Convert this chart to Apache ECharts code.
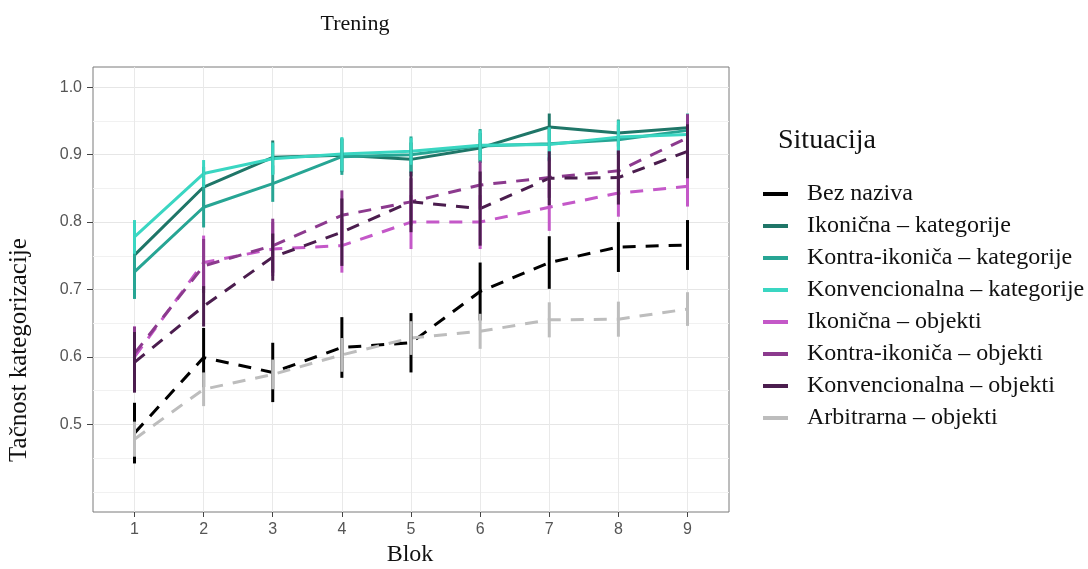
<!DOCTYPE html>
<html><head><meta charset="utf-8">
<script src="https://cdn.jsdelivr.net/npm/echarts@6/dist/echarts.min.js"></script>
<style>html,body{margin:0;padding:0;background:#fff}#c{width:1088px;height:569px}</style>
</head><body><div id="c"></div>
<script>
// ---- data ----
const blocks = [1, 2, 3, 4, 5, 6, 7, 8, 9];
const yTicks = [0.5, 0.6, 0.7, 0.8, 0.9, 1.0];
const yMinor = [0.4, 0.45, 0.55, 0.65, 0.75, 0.85, 0.95];
const names = [
  'Bez naziva',
  'Ikonična – kategorije',
  'Kontra-ikoniča – kategorije',
  'Konvencionalna – kategorije',
  'Ikonična – objekti',
  'Kontra-ikoniča – objekti',
  'Konvencionalna – objekti',
  'Arbitrarna – objekti'
];
const bezNaziva      = [0.487, 0.599, 0.577, 0.614, 0.621, 0.697, 0.740, 0.763, 0.766];
const bezNazivaCI    = [0.045, 0.044, 0.044, 0.045, 0.044, 0.043, 0.039, 0.037, 0.037];
const ikonKat        = [0.751, 0.852, 0.896, 0.899, 0.893, 0.910, 0.941, 0.932, 0.940];
const ikonKatCI      = [0.035, 0.030, 0.025, 0.025, 0.025, 0.022, 0.020, 0.020, 0.020];
const kontraKat      = [0.726, 0.822, 0.857, 0.897, 0.900, 0.913, 0.916, 0.922, 0.936];
const kontraKatCI    = [0.040, 0.030, 0.027, 0.027, 0.027, 0.025, 0.025, 0.022, 0.025];
const konvKat        = [0.778, 0.872, 0.894, 0.901, 0.905, 0.914, 0.915, 0.926, 0.930];
const konvKatCI      = [0.025, 0.020, 0.024, 0.025, 0.020, 0.022, 0.025, 0.025, 0.025];
const ikonObj        = [0.600, 0.740, 0.760, 0.765, 0.800, 0.800, 0.822, 0.843, 0.853];
const ikonObjCI      = [0.045, 0.040, 0.040, 0.040, 0.040, 0.040, 0.035, 0.035, 0.030];
const kontraObj      = [0.605, 0.735, 0.765, 0.810, 0.830, 0.855, 0.866, 0.876, 0.925];
const kontraObjCI    = [0.040, 0.040, 0.040, 0.037, 0.035, 0.035, 0.030, 0.030, 0.035];
const konvObj        = [0.592, 0.675, 0.748, 0.785, 0.830, 0.820, 0.865, 0.866, 0.905];
const konvObjCI      = [0.045, 0.030, 0.035, 0.050, 0.045, 0.055, 0.040, 0.040, 0.040];
const arbitrarna     = [0.478, 0.552, 0.574, 0.603, 0.628, 0.638, 0.655, 0.656, 0.671];
const arbitrarnaCI   = [0.026, 0.025, 0.022, 0.025, 0.025, 0.026, 0.026, 0.026, 0.025];

// ---- styling ----
const means = [bezNaziva, ikonKat, kontraKat, konvKat, ikonObj, kontraObj, konvObj, arbitrarna];
const cis = [bezNazivaCI, ikonKatCI, kontraKatCI, konvKatCI, ikonObjCI, kontraObjCI, konvObjCI, arbitrarnaCI];
const colors = ['#000000', '#1f7668', '#27a594', '#3ad6c2', '#c458c8', '#8c3a8e', '#4b1d4e', '#bdbdbd'];
const dashed = [true, false, false, false, true, true, true, true];
const serif = 'Liberation Serif';
const sans = 'Liberation Sans';

const series = [];
names.forEach((n, k) => {
  series.push({
    type: 'line', name: n, xAxisIndex: 0, yAxisIndex: 0,
    data: blocks.map((b, i) => [b, means[k][i]]),
    showSymbol: false, symbol: 'none', silent: true, z: 2 + k * 0.01,
    itemStyle: { color: colors[k] },
    lineStyle: { color: colors[k], width: 3, type: dashed[k] ? [13, 10] : 'solid', cap: 'butt' },
    animation: false
  });
});
names.forEach((n, k) => {
  series.push({
    type: 'custom', name: n + ' (interval)', xAxisIndex: 0, yAxisIndex: 0, silent: true, z: 3 + k * 0.01,
    data: blocks.map((b, i) => [b, means[k][i] - cis[k][i], means[k][i] + cis[k][i]]),
    encode: { x: 0, y: [1, 2] },
    renderItem: (params, api) => {
      const p1 = api.coord([api.value(0), api.value(1)]);
      const p2 = api.coord([api.value(0), api.value(2)]);
      return { type: 'line', shape: { x1: p1[0], y1: p1[1], x2: p2[0], y2: p2[1] },
               style: { stroke: colors[k], lineWidth: 3 } };
    },
    animation: false
  });
});

const chart = echarts.init(document.getElementById('c'), null, { renderer: 'canvas' });
chart.setOption({
  animation: false,
  backgroundColor: '#ffffff',
  grid: { left: 93, top: 67, width: 636, height: 445, show: true, borderColor: '#7a7a7a', borderWidth: 1,
          backgroundColor: 'transparent', outerBoundsMode: 'none' },
  xAxis: [{
    type: 'value', min: 0.4, max: 9.6,
    axisLine: { show: false },
    axisTick: { show: true, length: 5, lineStyle: { color: '#444', width: 1 }, customValues: blocks },
    axisLabel: { customValues: blocks, color: '#555', fontFamily: sans, fontSize: 16, margin: 10 },
    splitLine: { show: true, lineStyle: { color: '#e9e9e9', width: 1 } }
  }],
  yAxis: [{
    type: 'value', min: 0.37, max: 1.03, position: 'left',
    axisLine: { show: false },
    axisTick: { show: true, length: 6, lineStyle: { color: '#444', width: 1 }, customValues: yTicks },
    axisLabel: { customValues: yTicks, color: '#555', fontFamily: sans, fontSize: 16, margin: 11,
                 formatter: v => v.toFixed(1) },
    splitLine: { show: true, lineStyle: { color: '#e6e6e6', width: 1 } }
  }, {
    type: 'value', min: 0.37, max: 1.03, position: 'right',
    axisLine: { show: false },
    axisTick: { show: false, customValues: yMinor },
    axisLabel: { show: false, customValues: yMinor },
    splitLine: { show: true, lineStyle: { color: '#f1f1f1', width: 1 } }
  }],
  legend: {
    data: names, orient: 'vertical', left: 763, top: 181, padding: 0,
    icon: 'rect', itemWidth: 25, itemHeight: 4, itemGap: 6,
    selectedMode: false,
    textStyle: { fontFamily: serif, fontSize: 24, color: '#111', lineHeight: 26, padding: [0, 0, 0, 14] }
  },
  graphic: [
    { type: 'text', x: 355, y: 24, style: { text: 'Trening', font: '22px "Liberation Serif"', fill: '#111', textAlign: 'center', textVerticalAlign: 'middle' } },
    { type: 'text', x: 778, y: 141, style: { text: 'Situacija', font: '28px "Liberation Serif"', fill: '#111', textAlign: 'left', textVerticalAlign: 'middle' } },
    { type: 'text', x: 410, y: 555, style: { text: 'Blok', font: '24px "Liberation Serif"', fill: '#111', textAlign: 'center', textVerticalAlign: 'middle' } },
    { type: 'text', x: 19, y: 350, rotation: Math.PI / 2, style: { text: 'Tačnost kategorizacije', font: '25px "Liberation Serif"', fill: '#111', textAlign: 'center', textVerticalAlign: 'middle' } }
  ],
  series: series
});
</script></body></html>
